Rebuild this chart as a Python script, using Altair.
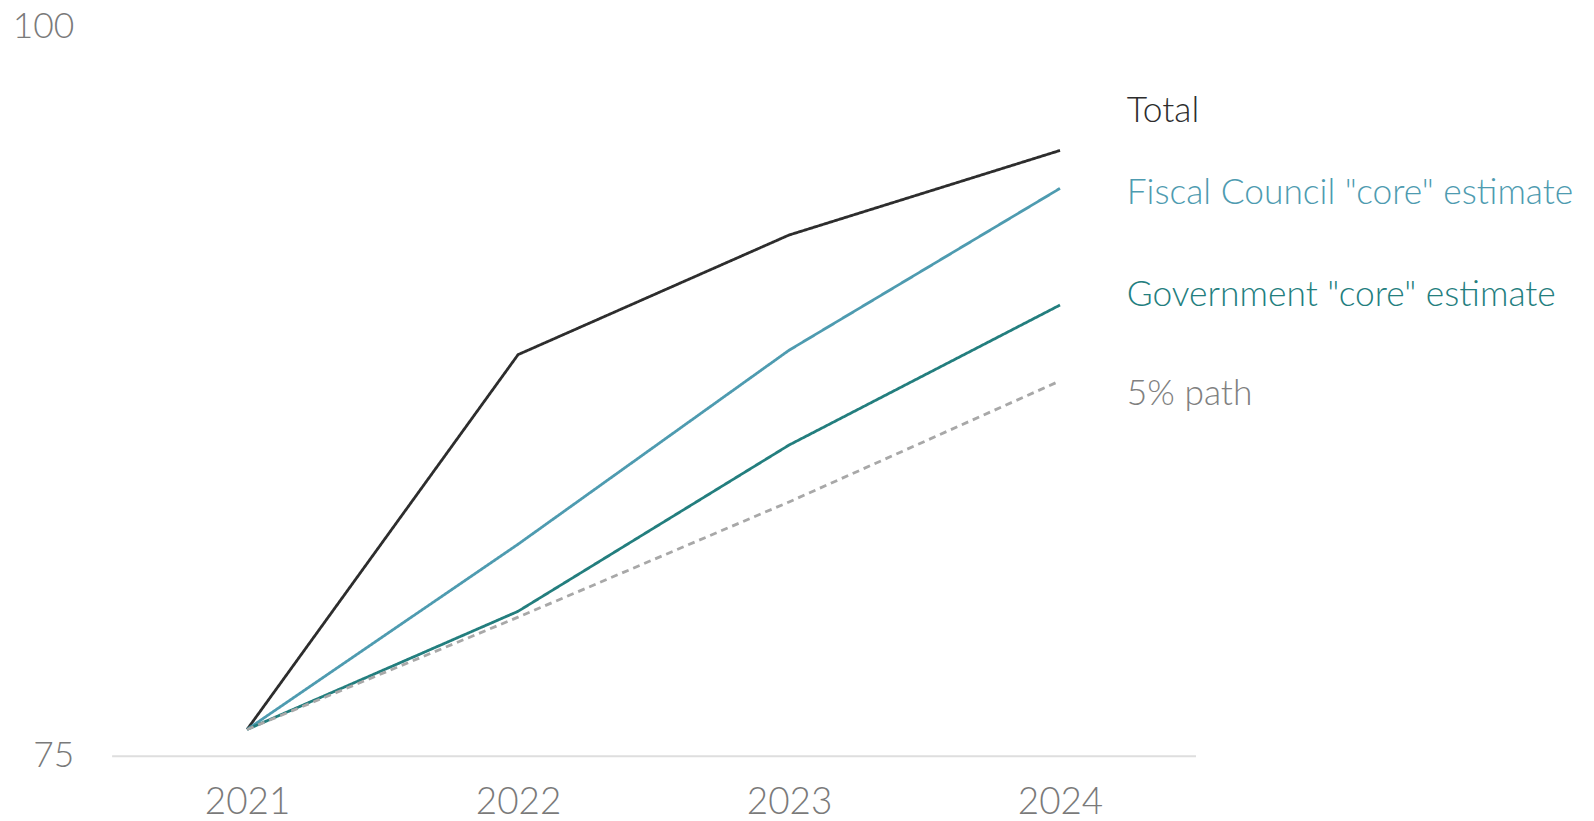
import altair as alt
import pandas as pd

years = ["2021", "2022", "2023", "2024"]
series_names = ["Total", "Fiscal Council \"core\" estimate", "Government \"core\" estimate", "5% path"]
total = [75.9, 88.75, 92.85, 95.75]
fiscal = [75.9, 82.25, 88.9, 94.45]
government = [75.9, 79.95, 85.65, 90.45]
five_pct = [75.9, 79.75, 83.7, 87.85]
label_values = [97.1, 94.3, 90.8, 87.4]
line_colors = ["#2d2d2d", "#4e9bb0", "#237e7e", "#a8a8a8"]
text_colors = ["#2d2d2d", "#4e9bb0", "#237e7e", "#808080"]

rows = []
for name, vals in zip(series_names, [total, fiscal, government, five_pct]):
    for y, v in zip(years, vals):
        rows.append({"year": y, "value": v, "series": name,
                     "dashed": "yes" if name == "5% path" else "no"})
df = pd.DataFrame(rows)
labels = pd.DataFrame({"series": series_names, "year": ["2024"] * 4, "value": label_values})

FONT = "Lato"

x = alt.X("year:O", title=None,
          scale=alt.Scale(type="point", padding=0.5),
          axis=alt.Axis(labelAngle=0, ticks=False, domain=True, domainColor="#dedede",
                        domainWidth=2, labelFontSize=37, labelColor="#7a7a7a",
                        labelFont=FONT, labelFontWeight=300, labelPadding=29,
                        labelBaseline="top", grid=False))
y = alt.Y("value:Q", title=None,
          scale=alt.Scale(domain=[75, 100], nice=False, zero=False),
          axis=alt.Axis(values=[75, 100], ticks=False, domain=False, grid=False,
                        labelFontSize=35.5, labelColor="#7a7a7a", labelFont=FONT,
                        labelFontWeight=300, labelPadding=38))
color = alt.Color("series:N", scale=alt.Scale(domain=series_names, range=line_colors), legend=None)

lines = alt.Chart(df).mark_line(strokeWidth=2.8).encode(
    x=x, y=y, color=color,
    strokeDash=alt.StrokeDash("dashed:N",
                              scale=alt.Scale(domain=["no", "yes"], range=[[1, 0], [7, 5]]),
                              legend=None),
    detail="series:N",
)

text = alt.Chart(labels).mark_text(align="left", baseline="middle", dx=67,
                                   fontSize=35.5, font=FONT, fontWeight=300).encode(
    x=alt.X("year:O"), y=alt.Y("value:Q"), text="series:N",
    color=alt.Color("series:N", scale=alt.Scale(domain=series_names, range=text_colors), legend=None),
)

chart = alt.layer(lines, text).resolve_scale(color="independent").properties(
    width=1088, height=732,
    background="white",
    autosize=alt.AutoSizeParams(type="none"),
    padding={"left": 104, "top": 17, "right": 392, "bottom": 70},
).configure_view(strokeWidth=0, stroke=None)

chart.save("out.html", embed_options={"renderer": "svg", "actions": False})
